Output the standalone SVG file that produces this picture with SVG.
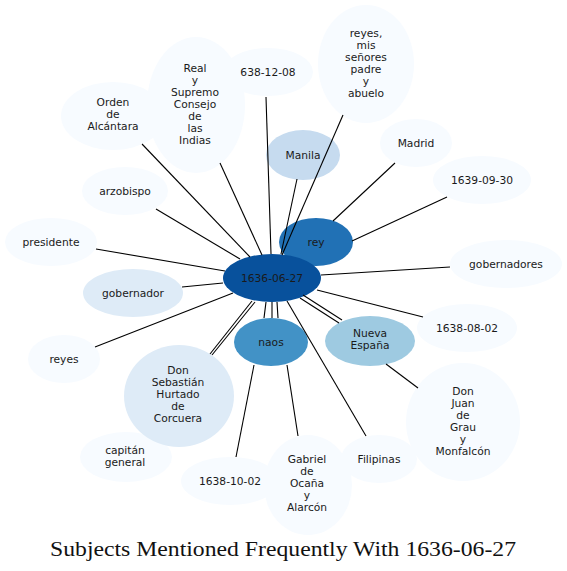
<svg xmlns="http://www.w3.org/2000/svg" width="567" height="571" viewBox="0 0 567 571">
<style>
.n{stroke:none}
.c0{fill:#08519c}.c1{fill:#2171b5}.c2{fill:#4292c6}.c3{fill:#9ecae1}.c4{fill:#c6dbef}.c5{fill:#deebf7}.c6{fill:#f7fbff}
text{font-family:"DejaVu Sans","Liberation Sans",sans-serif;font-size:10.7px;fill:#1a1a1a;text-anchor:middle}
.e line{stroke:#000;stroke-width:1.1;fill:none}
.t{font-family:"Liberation Serif","DejaVu Serif",serif;font-size:20px;fill:#111}
</style>
<rect width="567" height="571" fill="#fff"/>
<g id="n-orden"><ellipse class="n c6" cx="113" cy="116" rx="52" ry="34"/><text x="113" y="105.8">Orden</text><text x="113" y="117.8">de</text><text x="113" y="129.8">Alcántara</text></g>
<g id="n-real"><ellipse class="n c6" cx="196" cy="105" rx="49" ry="68"/><text x="195" y="72">Real</text><text x="195" y="84">y</text><text x="195" y="96">Supremo</text><text x="195" y="108">Consejo</text><text x="195" y="120">de</text><text x="195" y="132">las</text><text x="195" y="144">Indias</text></g>
<g id="n-638"><ellipse class="n c6" cx="268" cy="72" rx="45" ry="24"/><text x="268" y="75.8">638-12-08</text></g>
<g id="n-reyesmis"><ellipse class="n c6" cx="366" cy="64" rx="48" ry="59"/><text x="366" y="36.5">reyes,</text><text x="366" y="48.5">mis</text><text x="366" y="60.5">señores</text><text x="366" y="72.5">padre</text><text x="366" y="84.5">y</text><text x="366" y="96.5">abuelo</text></g>
<g id="n-manila"><ellipse class="n c4" cx="303" cy="155" rx="37" ry="25"/><text x="303" y="158.8">Manila</text></g>
<g id="n-madrid"><ellipse class="n c6" cx="416" cy="143" rx="36" ry="24"/><text x="416" y="146.8">Madrid</text></g>
<g id="n-1639"><ellipse class="n c6" cx="482" cy="180" rx="49" ry="24"/><text x="482" y="183.8">1639-09-30</text></g>
<g id="n-rey"><ellipse class="n c1" cx="316" cy="242" rx="37" ry="24"/><text x="316" y="245.8">rey</text></g>
<g id="n-gobernadores"><ellipse class="n c6" cx="506" cy="264" rx="56" ry="24"/><text x="506" y="267.8">gobernadores</text></g>
<g id="n-1638-08"><ellipse class="n c6" cx="467" cy="328" rx="50" ry="24"/><text x="467" y="331.8">1638-08-02</text></g>
<g id="n-donjuan"><ellipse class="n c6" cx="463" cy="422" rx="57" ry="59"/><text x="463" y="394.8">Don</text><text x="463" y="406.8">Juan</text><text x="463" y="418.8">de</text><text x="463" y="430.8">Grau</text><text x="463" y="442.8">y</text><text x="463" y="454.8">Monfalcón</text></g>
<g id="n-filipinas"><ellipse class="n c6" cx="379" cy="459" rx="38" ry="24"/><text x="379" y="462.8">Filipinas</text></g>
<g id="n-1638-10"><ellipse class="n c6" cx="230" cy="481" rx="49" ry="24"/><text x="230" y="484.8">1638-10-02</text></g>
<g id="n-gabriel"><ellipse class="n c6" cx="308" cy="485" rx="44" ry="50"/><text x="307" y="462.8">Gabriel</text><text x="307" y="474.8">de</text><text x="307" y="486.8">Ocaña</text><text x="307" y="498.8">y</text><text x="307" y="510.8">Alarcón</text></g>
<g id="n-capitan"><ellipse class="n c6" cx="126" cy="457" rx="46" ry="25"/><text x="125" y="453.8">capitán</text><text x="125" y="465.8">general</text></g>
<g id="n-sebastian"><ellipse class="n c5" cx="179" cy="396" rx="55" ry="51"/><text x="178" y="373.8">Don</text><text x="178" y="385.8">Sebastián</text><text x="178" y="397.8">Hurtado</text><text x="178" y="409.8">de</text><text x="178" y="421.8">Corcuera</text></g>
<g id="n-reyes"><ellipse class="n c6" cx="64" cy="359" rx="36" ry="24"/><text x="64" y="362.8">reyes</text></g>
<g id="n-gobernador"><ellipse class="n c5" cx="133" cy="293" rx="50" ry="24"/><text x="133" y="296.8">gobernador</text></g>
<g id="n-presidente"><ellipse class="n c6" cx="51" cy="242" rx="46" ry="24"/><text x="51" y="245.8">presidente</text></g>
<g id="n-arzobispo"><ellipse class="n c6" cx="125" cy="191" rx="43" ry="24"/><text x="125" y="194.8">arzobispo</text></g>
<g id="n-naos"><ellipse class="n c2" cx="271" cy="342" rx="37" ry="24"/><text x="271" y="345.8">naos</text></g>
<g id="n-nueva"><ellipse class="n c3" cx="370" cy="341" rx="45" ry="25"/><text x="370" y="336.8">Nueva</text><text x="370" y="348.8">España</text></g>
<g id="n-center"><ellipse class="n c0" cx="272" cy="278" rx="49" ry="24"/><text x="272" y="281.8">1636-06-27</text></g>
<g id="connectors" class="e">
<line x1="96" y1="249" x2="225" y2="271"/>
<line x1="156" y1="209" x2="240" y2="259"/>
<line x1="142" y1="144" x2="250" y2="257"/>
<line x1="220" y1="163" x2="262" y2="255"/>
<line x1="266" y1="97" x2="271" y2="254"/>
<line x1="343" y1="115" x2="282" y2="255"/>
<line x1="297" y1="179" x2="281" y2="254"/>
<line x1="333" y1="221" x2="395" y2="163"/>
<line x1="352" y1="241" x2="447" y2="197"/>
<line x1="321" y1="275" x2="450" y2="267"/>
<line x1="317" y1="290" x2="423" y2="317"/>
<line x1="300" y1="298" x2="339" y2="323"/>
<line x1="303" y1="295" x2="342" y2="320"/>
<line x1="386" y1="364" x2="418" y2="388"/>
<line x1="287" y1="301" x2="366" y2="436"/>
<line x1="266" y1="302" x2="264" y2="318"/>
<line x1="272" y1="302" x2="272" y2="318"/>
<line x1="277" y1="302" x2="278" y2="318"/>
<line x1="287" y1="365" x2="298" y2="436"/>
<line x1="254" y1="365" x2="236" y2="457"/>
<line x1="252" y1="301" x2="210" y2="354"/>
<line x1="255" y1="302" x2="212" y2="355"/>
<line x1="95" y1="347" x2="233" y2="293"/>
<line x1="182" y1="287" x2="223" y2="283"/>
</g>
<text class="t" x="283" y="556" textLength="466" lengthAdjust="spacingAndGlyphs">Subjects Mentioned Frequently With 1636-06-27</text>
</svg>
